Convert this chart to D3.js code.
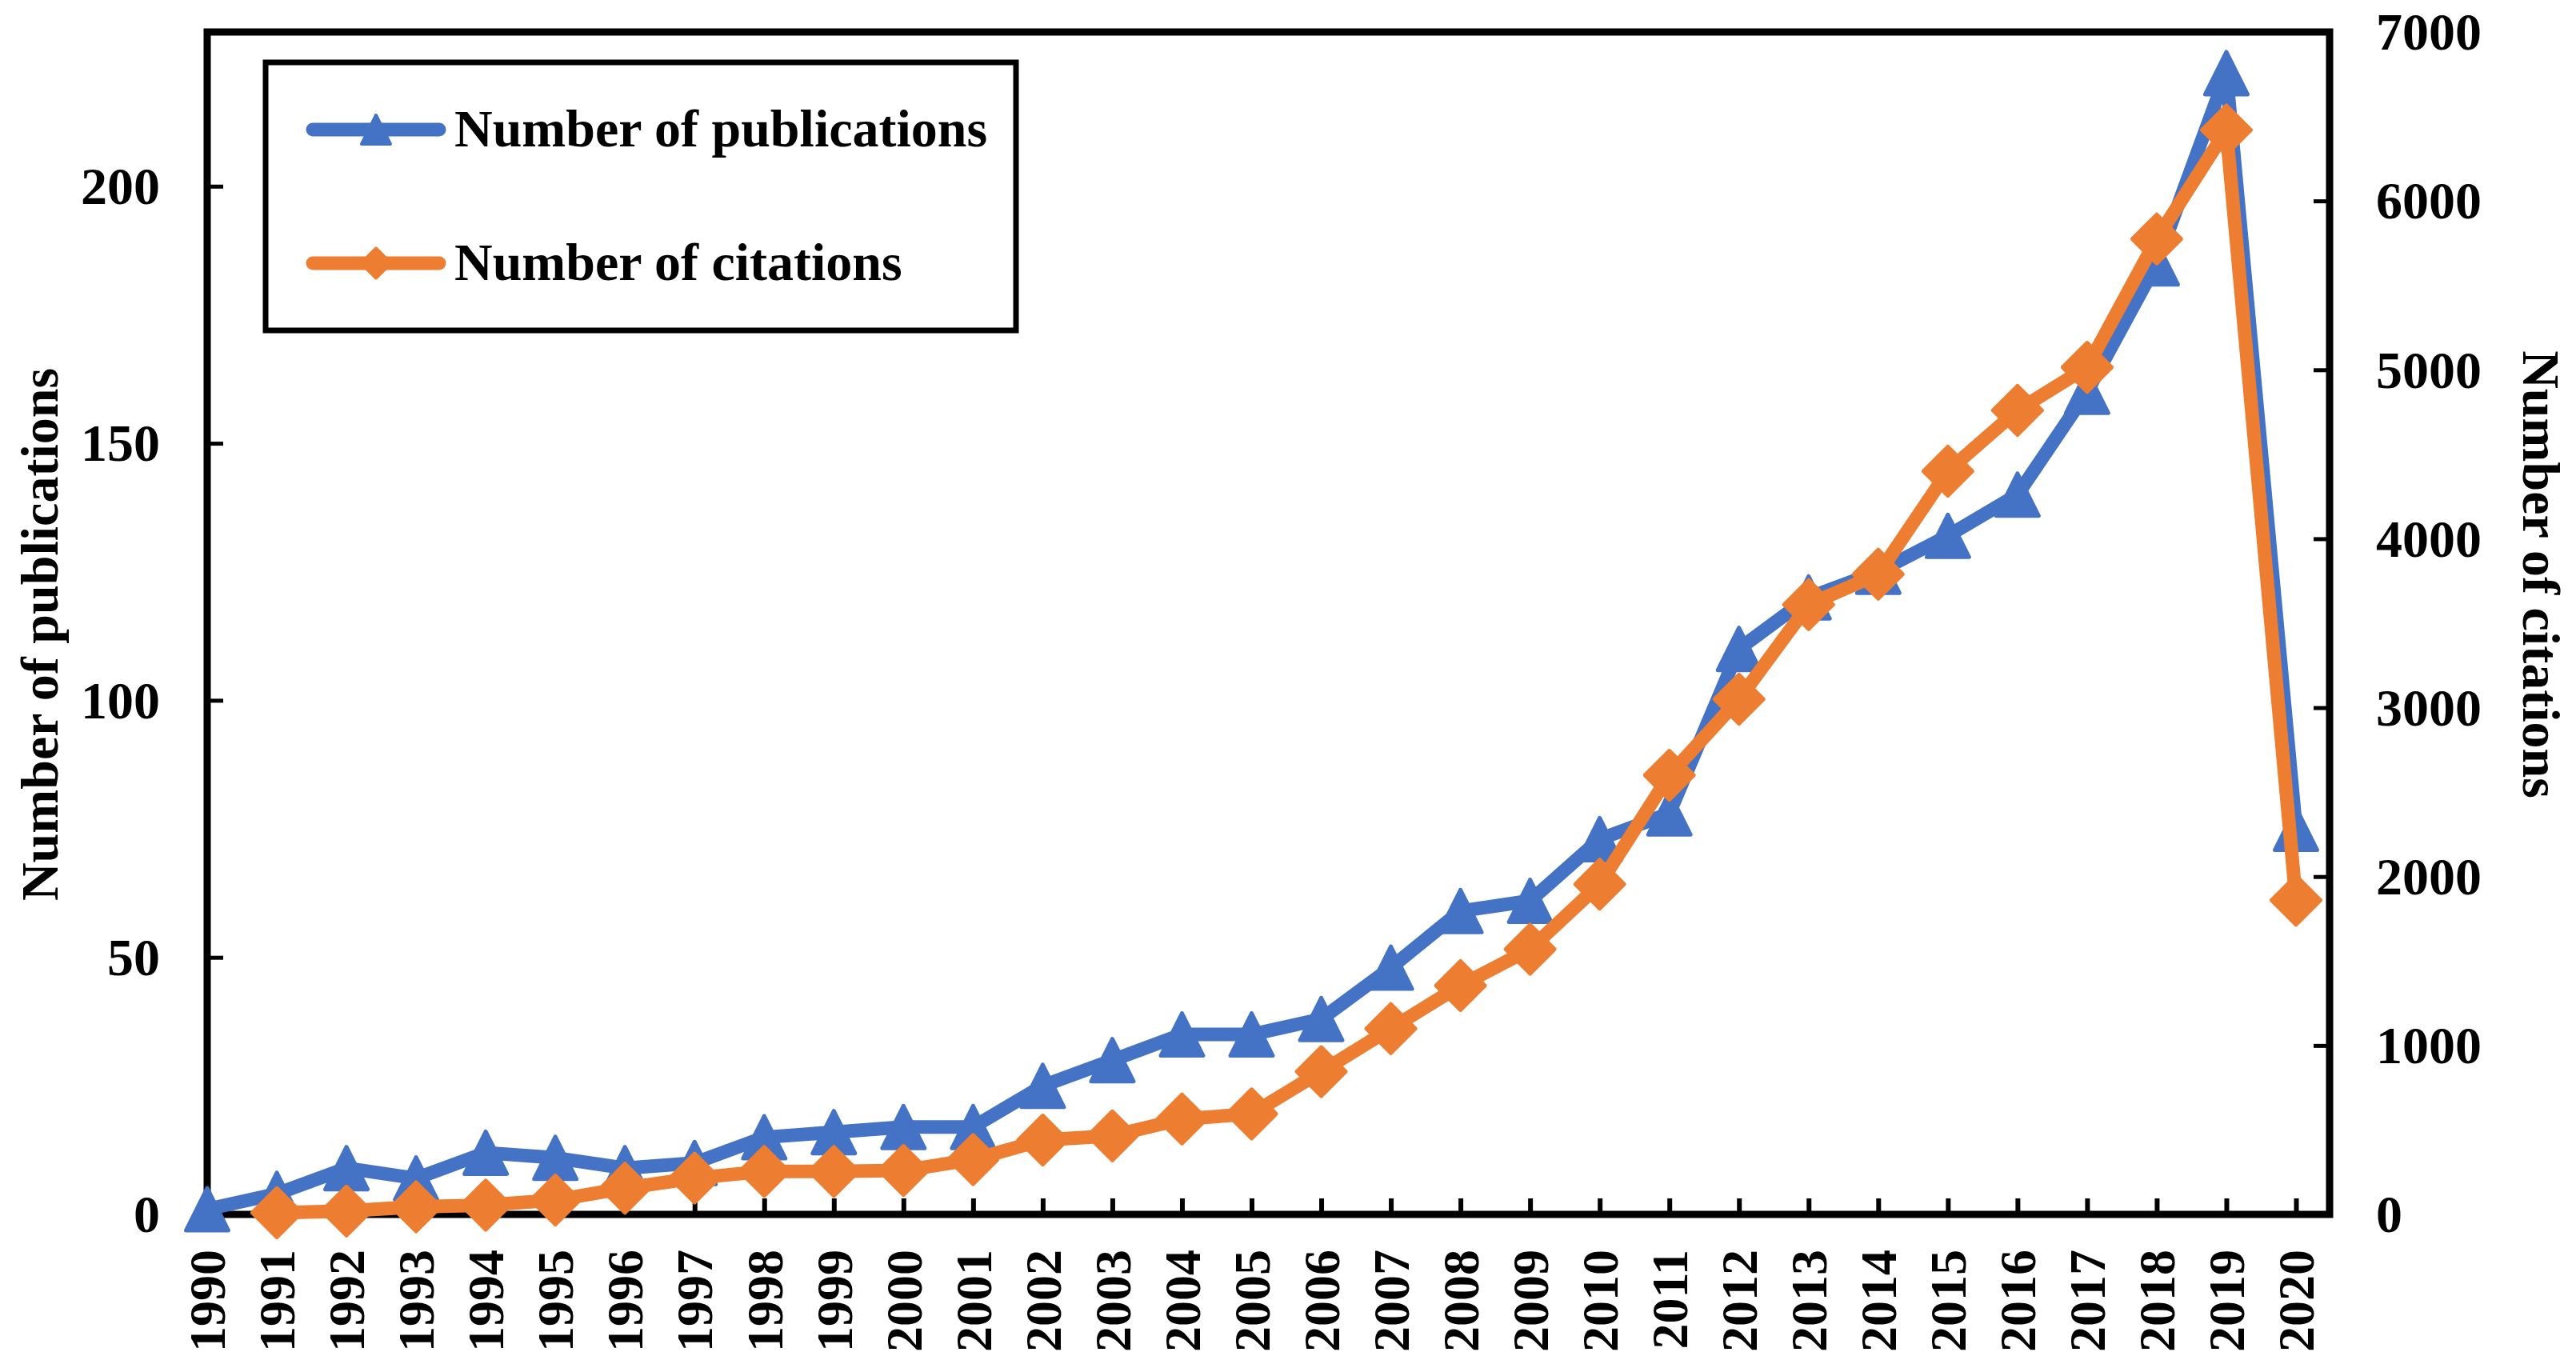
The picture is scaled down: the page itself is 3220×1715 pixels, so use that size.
<!DOCTYPE html>
<html>
<head>
<meta charset="utf-8">
<script src="https://cdn.jsdelivr.net/npm/d3@7/dist/d3.min.js"></script>
<style>
  body { margin: 0; background: #fff; }
  text { font-family: "Liberation Serif", "Times New Roman", serif; font-weight: bold; fill: #000; }
</style>
</head>
<body>
<svg id="chart"></svg>
<script>

// years on the x axis
var years = [1990, 1991, 1992, 1993, 1994, 1995, 1996, 1997, 1998, 1999,
             2000, 2001, 2002, 2003, 2004, 2005, 2006, 2007, 2008, 2009,
             2010, 2011, 2012, 2013, 2014, 2015, 2016, 2017, 2018, 2019, 2020]

// publications per year (left axis)
var publications = [1, 4, 9, 7, 12, 11, 9, 10, 15, 16,
                    17, 17, 25, 30, 35, 35, 38, 48, 59, 61,
                    73, 78, 110, 120, 125, 132, 140, 160, 185, 222, 75]

// citations per year (right axis), no value for 1990
var citationYears = years.slice(1)
var citations = [10, 20, 45, 55, 85, 155, 215, 255, 255,
                 260, 325, 440, 465, 565, 595, 845, 1100, 1355, 1570,
                 1955, 2600, 3050, 3610, 3790, 4400, 4760, 5015, 5775, 6420, 1860]

var leftTicks = [0, 50, 100, 150, 200]
var rightTicks = [0, 1000, 2000, 3000, 4000, 5000, 6000, 7000]

var seriesNames = ["Number of publications", "Number of citations"]
var seriesColors = ["#4472C4", "#ED7D31"]

var width = 3220, height = 1715
var plot = {left: 259, right: 2912, top: 40, bottom: 1518}

var svg = d3.select('#chart')
            .attr('width', width)
            .attr('height', height)

svg.append('rect')
   .attr('width', width)
   .attr('height', height)
   .attr('fill', '#fff')

var x = d3.scaleLinear()
          .domain([1990, 2020])
          .range([plot.left, 2870])

var yLeft = d3.scaleLinear()
              .domain([0, 230])
              .range([plot.bottom, plot.top])

var yRight = d3.scaleLinear()
               .domain([0, 7000])
               .range([plot.bottom, plot.top])

var fontSize = 66

// ---------- axes ----------
var gLeft = svg.append('g')
   .attr('transform', 'translate(' + plot.left + ',0)')
   .call(d3.axisLeft(yLeft).tickValues(leftTicks).tickFormat(d3.format('d')).tickSize(-20).tickPadding(59))
gLeft.select('.domain').remove()
gLeft.selectAll('line').attr('stroke', '#000').attr('stroke-width', 5)
gLeft.selectAll('text').style('font-size', fontSize + 'px').attr('dy', '0.33em')

var gRight = svg.append('g')
   .attr('transform', 'translate(' + plot.right + ',0)')
   .call(d3.axisRight(yRight).tickValues(rightTicks).tickFormat(d3.format('d')).tickSize(-20).tickPadding(58))
gRight.select('.domain').remove()
gRight.selectAll('line').attr('stroke', '#000').attr('stroke-width', 5)
gRight.selectAll('text').style('font-size', fontSize + 'px').attr('dy', '0.33em')

var gBottom = svg.append('g')
   .attr('transform', 'translate(0,' + plot.bottom + ')')
   .call(d3.axisBottom(x).tickValues(years).tickFormat(d3.format('d')).tickSize(-20))
gBottom.select('.domain').remove()
gBottom.selectAll('line').attr('stroke', '#000').attr('stroke-width', 6)
gBottom.selectAll('text')
   .style('font-size', '64px')
   .attr('transform', 'rotate(-90)')
   .attr('text-anchor', 'end')
   .attr('x', -44)
   .attr('y', 0)
   .attr('dy', '0.34em')

// frame round the plot
svg.append('rect')
   .attr('x', plot.left)
   .attr('y', plot.top)
   .attr('width', plot.right - plot.left)
   .attr('height', plot.bottom - plot.top)
   .attr('fill', 'none')
   .attr('stroke', '#000')
   .attr('stroke-width', 9)

// axis titles
svg.append('text')
   .attr('transform', 'translate(72,793) rotate(-90)')
   .attr('text-anchor', 'middle')
   .style('font-size', fontSize + 'px')
   .text(seriesNames[0])

svg.append('text')
   .attr('transform', 'translate(3154,718) rotate(90)')
   .attr('text-anchor', 'middle')
   .style('font-size', fontSize + 'px')
   .text(seriesNames[1])

// ---------- markers ----------
function trianglePath(s) {
    return 'M0,' + (-s / 2) + 'L' + (s / 2) + ',' + (s / 2) + 'L' + (-s / 2) + ',' + (s / 2) + 'Z'
}
function diamondPath(s) {
    return 'M0,' + (-s / 2) + 'L' + (s / 2) + ',0L0,' + (s / 2) + 'L' + (-s / 2) + ',0Z'
}

function drawSeries(xs, values, yScale, color, shape) {
    var line = d3.line()
                 .x(function(d, i) { return x(xs[i]) })
                 .y(function(d) { return yScale(d) })

    svg.append('path')
       .datum(values)
       .attr('d', line)
       .attr('fill', 'none')
       .attr('stroke', color)
       .attr('stroke-width', 17)
       .attr('stroke-linejoin', 'round')
       .attr('stroke-linecap', 'round')

    svg.append('g').selectAll('path')
       .data(values)
       .enter()
       .append('path')
       .attr('transform', function(d, i) { return 'translate(' + x(xs[i]) + ',' + yScale(d) + ')' })
       .attr('d', shape)
       .attr('fill', color)
       .attr('stroke', color)
       .attr('stroke-width', 5)
       .attr('stroke-linejoin', 'round')
}

drawSeries(years, publications, yLeft, seriesColors[0], trianglePath(53))
drawSeries(citationYears, citations, yRight, seriesColors[1], diamondPath(61))

// ---------- legend ----------
var legend = svg.append('g')

legend.append('rect')
   .attr('x', 332)
   .attr('y', 78)
   .attr('width', 1270 - 332)
   .attr('height', 413 - 78)
   .attr('fill', '#fff')
   .attr('stroke', '#000')
   .attr('stroke-width', 7)

var legendRows = [162, 329]
var legendShapes = [trianglePath(36), diamondPath(37)]

seriesNames.forEach(function(name, i) {
    var row = legend.append('g').attr('transform', 'translate(0,' + legendRows[i] + ')')
    row.append('line')
       .attr('x1', 391).attr('x2', 549)
       .attr('y1', 0).attr('y2', 0)
       .attr('stroke', seriesColors[i])
       .attr('stroke-width', 17)
       .attr('stroke-linecap', 'round')
    row.append('path')
       .attr('transform', 'translate(470,0)')
       .attr('d', legendShapes[i])
       .attr('fill', seriesColors[i])
       .attr('stroke', seriesColors[i])
       .attr('stroke-width', 4)
       .attr('stroke-linejoin', 'round')
    row.append('text')
       .attr('x', 568)
       .attr('y', 21)
       .style('font-size', fontSize + 'px')
       .text(name)
})

</script>
</body>
</html>
